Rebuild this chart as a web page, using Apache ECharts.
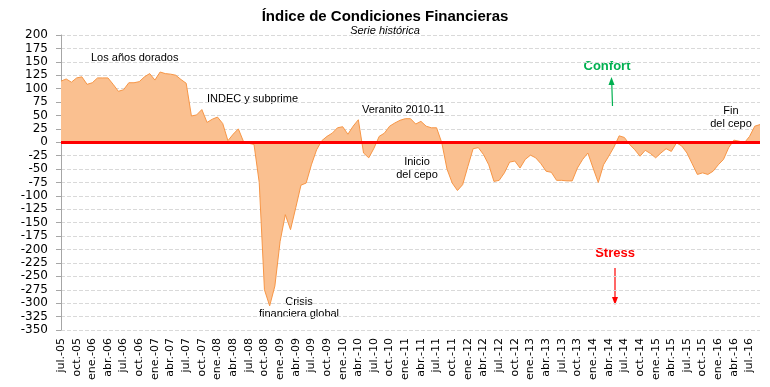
<!DOCTYPE html>
<html>
<head>
<meta charset="utf-8">
<script src="https://cdn.jsdelivr.net/npm/echarts@6/dist/echarts.min.js"></script>
<style>html,body{margin:0;padding:0;background:#fff}#c{width:770px;height:387px}</style>
</head>
<body>
<div id="c"></div>
<script>
var monthNames = ['ene','feb','mar','abr','may','jun','jul','ago','sep','oct','nov','dic'];
var startYear = 2005, startMonth = 6, nMonths = 135;
var categories = [];
for (var k = 0; k < nMonths; k++) {
  var m = (startMonth + k) % 12;
  var y = startYear + Math.floor((startMonth + k) / 12);
  categories.push(monthNames[m] + '.-' + String(y).slice(2));
}
var indexValues = [
  114,118,112,120,122,108,111,120,120,120,108,95,98,111,111,113,122,128,116,131,
  128,127,125,117,110,49,51,61,37,43,47,35,3,15,25,1,-2,-4,-75,-275,
  -305,-268,-185,-135,-163,-122,-80,-76,-42,-14,3,11,17,27,29,15,30,42,-20,-29,
  -11,11,17,30,36,41,44,44,34,39,30,27,27,-1,-50,-76,-90,-79,-45,-12,
  -10,-23,-42,-73,-71,-57,-37,-35,-48,-32,-24,-29,-40,-54,-56,-71,-71,-72,-72,-48,
  -32,-20,-48,-75,-42,-26,-9,12,9,-4,-14,-26,-15,-21,-29,-20,-12,-17,-1,-7,
  -20,-40,-60,-57,-60,-54,-42,-32,-10,4,2,-1,11,30,33
];
var yMin = -350, yMax = 200, yStep = 25;

var chart = echarts.init(document.getElementById('c'), null, {renderer:'canvas'});
var F = 'DejaVu Sans';
var A = 'Liberation Sans';
chart.setOption({
  animation: false,
  backgroundColor: '#ffffff',
  title: {
    text: 'Índice de Condiciones Financieras',
    subtext: 'Serie histórica',
    left: 'center', top: 4, itemGap: 1,
    textStyle: {fontFamily: A, fontWeight: 'bold', fontSize: 15, color: '#000'},
    subtextStyle: {fontFamily: A, fontStyle: 'italic', fontSize: 11, color: '#000'}
  },
  grid: {left: 61, right: 10, top: 35, bottom: 57, containLabel: false},
  xAxis: {
    type: 'category', data: categories, boundaryGap: false,
    axisLine: {show: false}, axisTick: {show: false},
    axisLabel: {interval: 2, rotate: 90, fontFamily: F, fontSize: 11, color: '#000', margin: 8},
    splitLine: {show: false}
  },
  yAxis: {
    type: 'value', min: yMin, max: yMax, interval: yStep,
    axisLine: {show: true, lineStyle: {color: '#a6a6a6', width: 1}},
    axisTick: {show: true, length: 5, lineStyle: {color: '#a6a6a6'}},
    axisLabel: {fontFamily: F, fontSize: 12, color: '#000', margin: 13},
    splitLine: {show: true, lineStyle: {color: '#d9d9d9', type: [4, 2], width: 1}}
  },
  series: [{
    type: 'line', data: indexValues, symbol: 'none',
    lineStyle: {color: '#f79646', width: 1},
    areaStyle: {color: '#fac090', opacity: 1},
    markLine: {
      silent: true, symbol: 'none', label: {show: false},
      lineStyle: {color: '#ff0000', width: 3, type: 'solid'},
      data: [{yAxis: 0}]
    }
  }],
  graphic: [
    {type:'text', left: 91, top: 52, style:{text:'Los años dorados', font:'11px Liberation Sans', fill:'#000'}},
    {type:'text', left: 207, top: 93, style:{text:'INDEC y subprime', font:'11px Liberation Sans', fill:'#000'}},
    {type:'text', left: 362, top: 104, style:{text:'Veranito 2010-11', font:'11px Liberation Sans', fill:'#000'}},
    {type:'text', x: 417, y: 155, style:{text:'Inicio\ndel cepo', font:'11px Liberation Sans', fill:'#000', textAlign:'center', lineHeight: 13}},
    {type:'text', x: 299, y: 296, style:{text:'Crisis\nfinanciera global', font:'11px Liberation Sans', fill:'#000', textAlign:'center', lineHeight: 12}},
    {type:'text', x: 731, y: 104, style:{text:'Fin\ndel cepo', font:'11px Liberation Sans', fill:'#000', textAlign:'center', lineHeight: 13}},
    {type:'text', x: 607, y: 60, style:{text:'Confort', font:'bold 13px Liberation Sans', fill:'#00b050', textAlign:'center'}},
    {type:'line', shape:{x1:612.5, y1:106, x2:611.8, y2:84}, style:{stroke:'#00b050', lineWidth:1.2}},
    {type:'polygon', shape:{points:[[611.5,77],[608.5,85],[614.5,85]]}, style:{fill:'#00b050'}},
    {type:'text', x: 615, y: 247, style:{text:'Stress', font:'bold 13px Liberation Sans', fill:'#ff0000', textAlign:'center'}},
    {type:'line', shape:{x1:615, y1:268, x2:615, y2:298}, style:{stroke:'#ff0000', lineWidth:1.2}},
    {type:'polygon', shape:{points:[[615,305],[612,297],[618,297]]}, style:{fill:'#ff0000'}}
  ]
});
</script>
</body>
</html>
